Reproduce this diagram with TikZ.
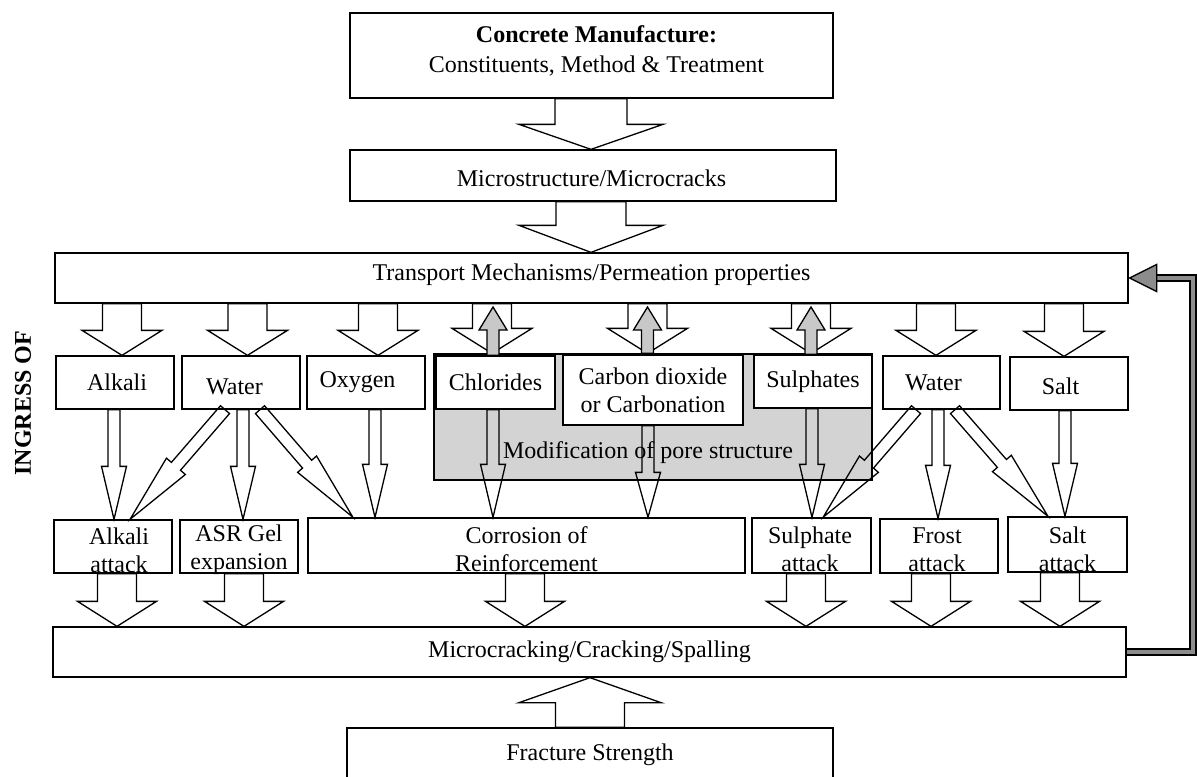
\documentclass[tikz,border=0pt]{standalone}
\usepackage{fontspec}
\setmainfont{Liberation Serif}
\usetikzlibrary{calc}
\definecolor{regiongray}{RGB}{211,211,211}
\definecolor{upgray}{RGB}{200,200,200}
\definecolor{fbgray}{RGB}{140,140,140}

% #1 style, #2 start coord, #3 tip coord, #4 shaft half width, #5 head half width, #6 head length
\newcommand\blockarrow[6]{%
  \path let \p1=($(#3)-(#2)$) in \pgfextra{%
    \pgfmathsetmacro\baang{atan2(\y1,\x1)}%
    \pgfmathsetmacro\balen{veclen(\x1,\y1)}%
    \global\let\baang\baang\global\let\balen\balen};
  \begin{scope}[shift={(#2)},rotate=\baang]
    \draw[#1] (0pt,#4) -- ({\balen pt-#6},#4) -- ({\balen pt-#6},#5) -- (\balen pt,0pt)
      -- ({\balen pt-#6},-#5) -- ({\balen pt-#6},-#4) -- (0pt,-#4) -- cycle;
  \end{scope}}

\tikzset{
  box/.style={draw, fill=white, line width=0.65pt, inner sep=0pt},
  txt/.style={font=\fontsize{12}{14}\selectfont, align=center, inner sep=0pt},
  bigarrow/.style={draw, fill=white, line width=0.65pt, line join=miter},
  thinarrow/.style={draw, line width=0.65pt, line join=miter},
  uparrow/.style={draw, fill=upgray, line width=0.65pt, line join=miter},
}

\begin{document}
\begin{tikzpicture}[x=0.5pt,y=-0.5pt]
\fill[white] (0,0) rectangle (1197,776);
\useasboundingbox (0,0) rectangle (1197,776);

% ---- top stack
\node[box, minimum width=241.5pt, minimum height=42.5pt,
  label={[txt,xshift=2.5pt,yshift=2.25pt]center:{\textbf{Concrete Manufacture:}\\[1pt]Constituents, Method \& Treatment}}] (cm) at (591.5,55.5) {};
\node[box, minimum width=243pt, minimum height=25.5pt,
  label={[txt,xshift=-0.75pt,yshift=-1.25pt]center:Microstructure/Microcracks}] (ms) at (593,175.5) {};
\node[box, minimum width=536.5pt, minimum height=25pt,
  label={[txt,yshift=1.5pt]center:Transport Mechanisms/Permeation properties}] (tp) at (591.5,278) {};

% ---- grey region
\node[box, fill=regiongray, minimum width=219pt, minimum height=63pt,
  label={[txt,xshift=-2.5pt,yshift=-18pt]center:Modification of pore structure}] (reg) at (653,417) {};

% ---- ingress boxes
\node[box, minimum width=59pt, minimum height=26.5pt,
  label={[txt,xshift=1pt]center:Alkali}] (alk) at (115,382.5) {};
\node[box, minimum width=59pt, minimum height=26.5pt,
  label={[txt,xshift=-3.25pt,yshift=-2.25pt]center:Water}] (wat1) at (241,382.5) {};
\node[box, minimum width=59pt, minimum height=26.5pt,
  label={[txt,xshift=-4.25pt]center:Oxygen}] (oxy) at (366,382.5) {};
\node[box, minimum width=59.5pt, minimum height=26.5pt,
  label={[txt]center:Chlorides}] (chl) at (495.5,382.5) {};
\node[box, minimum width=90pt, minimum height=35pt,
  label={[txt]center:Carbon dioxide\\or Carbonation}] (co2) at (653,390) {};
\node[box, minimum width=59pt, minimum height=26.5pt,
  label={[txt]center:Sulphates}] (sul) at (813,381.5) {};
\node[box, minimum width=58.5pt, minimum height=26.5pt,
  label={[txt,xshift=-4pt]center:Water}] (wat2) at (941.5,382.5) {};
\node[box, minimum width=59pt, minimum height=26.5pt,
  label={[txt,xshift=-4.25pt,yshift=-1.25pt]center:Salt}] (salt) at (1069,383.5) {};

% ---- attack boxes
\node[box, minimum width=59pt, minimum height=26.5pt,
  label={[txt,xshift=3pt,yshift=-1.75pt]center:Alkali\\attack}] (alkatt) at (113,546.5) {};
\node[box, minimum width=59pt, minimum height=26.5pt,
  label={[txt,yshift=-1.75pt]center:ASR Gel\\expansion}] (asr) at (239,546.5) {};
\node[box, minimum width=218.5pt, minimum height=27.5pt,
  label={[txt,yshift=-1.75pt]center:Corrosion of\\Reinforcement}] (cor) at (526.5,545.5) {};
\node[box, minimum width=59.5pt, minimum height=27.5pt,
  label={[txt,xshift=-0.75pt,yshift=-1.75pt]center:Sulphate\\attack}] (sulatt) at (811.5,545.5) {};
\node[box, minimum width=59pt, minimum height=27pt,
  label={[txt,xshift=-1pt,yshift=-2pt]center:Frost\\attack}] (frost) at (939,546) {};
\node[box, minimum width=59.5pt, minimum height=27.5pt,
  label={[txt,yshift=-2.25pt]center:Salt\\attack}] (saltatt) at (1067.5,544.5) {};

% ---- bottom
\node[box, minimum width=536.5pt, minimum height=25pt,
  label={[txt]center:Microcracking/Cracking/Spalling}] (mc) at (589.5,652) {};
\node[box, minimum width=243pt, minimum height=25pt,
  label={[txt,yshift=-1pt]center:Fracture Strength}] (fr) at (590,753) {};

\node[txt, font=\fontsize{12}{14}\selectfont\bfseries, rotate=90] (ing) at (23,403) {INGRESS OF};

% ---- big arrows
\coordinate (a1s) at (591,0 |- cm.south);  \coordinate (a1e) at (591,0 |- ms.north);
\coordinate (a2s) at (591,0 |- ms.south);  \coordinate (a2e) at (591,0 |- tp.north);
\coordinate (a3s) at (590,0 |- fr.north);  \coordinate (a3e) at (590,0 |- mc.south);
\blockarrow{bigarrow}{a1s}{a1e}{18pt}{36pt}{12.5pt}
\blockarrow{bigarrow}{a2s}{a2e}{17.5pt}{36pt}{13.5pt}
\blockarrow{bigarrow}{a3s}{a3e}{17.25pt}{35.5pt}{12.5pt}

% ---- top row arrows
\coordinate (t1s) at (122,0 |- tp.south);   \coordinate (t1e) at (122,0 |- alk.north);
\coordinate (t2s) at (247.5,0 |- tp.south); \coordinate (t2e) at (247.5,0 |- wat1.north);
\coordinate (t3s) at (378,0 |- tp.south);   \coordinate (t3e) at (378,0 |- oxy.north);
\coordinate (t4s) at (492,0 |- tp.south);   \coordinate (t4e) at (492,0 |- reg.north);
\coordinate (t5s) at (647.5,0 |- tp.south); \coordinate (t5e) at (647.5,0 |- reg.north);
\coordinate (t6s) at (811,0 |- tp.south);   \coordinate (t6e) at (811,0 |- reg.north);
\coordinate (t7s) at (936,0 |- tp.south);   \coordinate (t7e) at (936,0 |- wat2.north);
\coordinate (t8s) at (1064,0 |- tp.south);  \coordinate (t8e) at (1064,0 |- salt.north);
\foreach \i in {1,...,8}{\blockarrow{bigarrow}{t\i s}{t\i e}{9.75pt}{20pt}{12.5pt}}

% ---- grey up arrows
\coordinate (u1s) at (493,0 |- chl.north);   \coordinate (u1e) at (493,307);
\coordinate (u2s) at (647.5,0 |- reg.north); \coordinate (u2e) at (647.5,307);
\coordinate (u3s) at (811,0 |- sul.north);   \coordinate (u3e) at (811,307);
\foreach \i in {1,2,3}{\blockarrow{uparrow}{u\i s}{u\i e}{3pt}{7pt}{11.5pt}}

% ---- middle arrows
\coordinate (m1s) at (114,0 |- alk.south);   \coordinate (m1e) at (114,0 |- alkatt.north);
\coordinate (m2s) at (225,0 |- wat1.south);  \coordinate (m2e) at (130,0 |- alkatt.north);
\coordinate (m3s) at (243,0 |- wat1.south);  \coordinate (m3e) at (243,0 |- asr.north);
\coordinate (m4s) at (260,0 |- wat1.south);  \coordinate (m4e) at (353,0 |- cor.north);
\coordinate (m5s) at (375,0 |- oxy.south);   \coordinate (m5e) at (375,0 |- cor.north);
\coordinate (m6s) at (493,0 |- chl.south);   \coordinate (m6e) at (493,0 |- cor.north);
\coordinate (m7s) at (648,0 |- co2.south);   \coordinate (m7e) at (648,0 |- cor.north);
\coordinate (m8s) at (812,0 |- sul.south);   \coordinate (m8e) at (812,0 |- sulatt.north);
\coordinate (m9s) at (916,0 |- wat2.south);  \coordinate (m9e) at (823,0 |- sulatt.north);
\coordinate (m10s) at (938,0 |- wat2.south); \coordinate (m10e) at (938,0 |- frost.north);
\coordinate (m11s) at (955,0 |- wat2.south); \coordinate (m11e) at (1048,0 |- saltatt.north);
\coordinate (m12s) at (1065,0 |- salt.south);\coordinate (m12e) at (1065,0 |- saltatt.north);
\foreach \i in {1,3,5,6,8,10,12}{\blockarrow{thinarrow}{m\i s}{m\i e}{3pt}{6.25pt}{26.5pt}}
\blockarrow{thinarrow}{m7s}{m7e}{3pt}{6.25pt}{22.5pt}
\foreach \i in {2,4,9,11}{\blockarrow{thinarrow}{m\i s}{m\i e}{3pt}{6.25pt}{35pt}}

% ---- bottom row arrows
\coordinate (b1s) at (117,0 |- alkatt.south);  \coordinate (b1e) at (117,0 |- mc.north);
\coordinate (b2s) at (244,0 |- asr.south);     \coordinate (b2e) at (244,0 |- mc.north);
\coordinate (b3s) at (525,0 |- cor.south);     \coordinate (b3e) at (525,0 |- mc.north);
\coordinate (b4s) at (806,0 |- sulatt.south);  \coordinate (b4e) at (806,0 |- mc.north);
\coordinate (b5s) at (931,0 |- frost.south);   \coordinate (b5e) at (931,0 |- mc.north);
\coordinate (b6s) at (1060,0 |- saltatt.south);\coordinate (b6e) at (1060,0 |- mc.north);
\foreach \i in {1,...,6}{\blockarrow{bigarrow}{b\i s}{b\i e}{9.75pt}{19.75pt}{12.5pt}}

% ---- feedback arrow
\coordinate (fbx) at (1193,0);
\coordinate (fbh) at ([xshift=14pt]tp.east);
\draw[line width=3.6pt, black] (mc.east) -- (mc.east -| fbx) -- (tp.east -| fbx) -- (fbh);
\draw[line width=2.3pt, fbgray] (mc.east) -- (mc.east -| fbx) -- (tp.east -| fbx) -- (fbh);
\draw[fill=fbgray, line width=0.65pt, line join=miter]
  ([xshift=0.5pt]tp.east) -- ([yshift=6.75pt]fbh) -- ([yshift=-6.75pt]fbh) -- cycle;
\end{tikzpicture}
\end{document}
